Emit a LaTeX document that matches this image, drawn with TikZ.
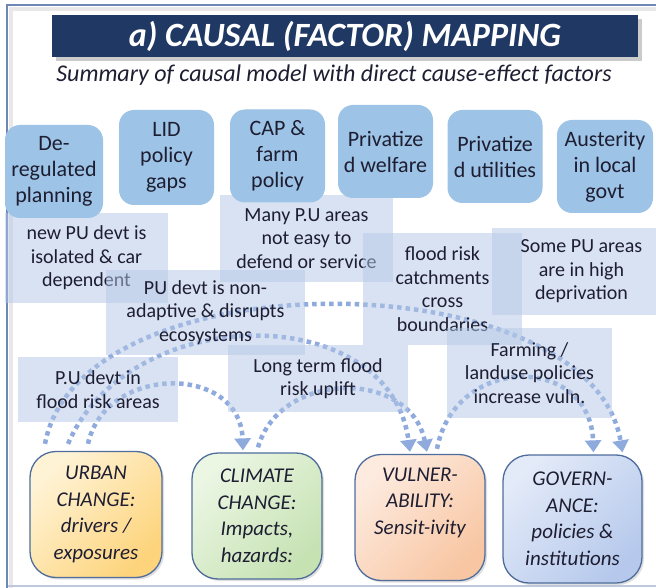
\documentclass[tikz,border=0pt]{standalone}
\usepackage{fontspec}
\setmainfont{Carlito}
\usetikzlibrary{arrows.meta,shadows}

\definecolor{navy}{HTML}{203864}
\definecolor{inkc}{HTML}{1E1E32}
\definecolor{topblue}{HTML}{9DC3E6}
\definecolor{lavender}{HTML}{B4C7E7}
\definecolor{arrowblue}{HTML}{8FAADC}
\definecolor{edgeblue}{HTML}{4E6D9C}
\definecolor{framec}{HTML}{6F87B7}
\definecolor{urbanL}{HTML}{FFF3D6}
\definecolor{urbanR}{HTML}{FDD47C}
\definecolor{climL}{HTML}{EBF6E3}
\definecolor{climR}{HTML}{C6E2B3}
\definecolor{vulnL}{HTML}{FDEBDF}
\definecolor{vulnR}{HTML}{F8C6A3}
\definecolor{govL}{HTML}{E3EAF8}
\definecolor{govR}{HTML}{B6C9EC}

\begin{document}
\begin{tikzpicture}[x=1pt,y=-1pt,
    factor/.style={fill=topblue, rounded corners=15pt, minimum width=95pt, minimum height=93pt,
        inner sep=1pt, align=center, text=inkc, font=\fontsize{22}{26}\selectfont},
    effect/.style={fill=lavender, fill opacity=0.5, text opacity=1, inner sep=0pt, align=center,
        text=inkc, font=\fontsize{20}{23.5}\selectfont},
    driver/.style={draw=edgeblue, line width=1.3pt, rounded corners=26pt, minimum width=132pt,
        minimum height=126pt, inner sep=1pt, align=center, text=inkc,
        font=\fontsize{21}{26.5}\selectfont\itshape,
        drop shadow={shadow xshift=2pt, shadow yshift=-2pt, opacity=0.25}},
    causal/.style={draw=arrowblue, line width=4.5pt, dash pattern=on 4.5pt off 4pt,
        -{Triangle[width=16pt,length=12pt]}}
  ]
  \useasboundingbox (0,0) rectangle (656,588);
  \clip (0,0) rectangle (656,588);
  \fill[white] (0,0) rectangle (656,588);

  % frame
  \draw[black!9, line width=4pt] (11,588) -- (11,9) -- (670,9);
  \draw[framec!45, line width=1.5pt] (7,586) -- (670,586);
  \draw[framec, line width=1.6pt] (7,590) -- (7,5) -- (670,5);

  % title
  \fill[black!40, opacity=0.5] (56,19) rectangle (642,61);
  \node (title) [fill=navy, minimum width=586pt, minimum height=42pt, text=white,
      font=\fontsize{34}{36}\selectfont\bfseries\itshape] at (345,36) {a) CAUSAL (FACTOR) MAPPING};
  \node (subtitle) [text=inkc, font=\fontsize{24}{26}\selectfont\itshape] at (334,75)
      {Summary of causal model with direct cause-effect factors};

  % drivers
  \node (urban) [driver, left color=urbanL, right color=urbanR, shading angle=45] at (96,514.5)
      {URBAN\\CHANGE:\\drivers /\\exposures};
  \node (climate) [driver, minimum width=130pt, left color=climL, right color=climR, shading angle=45] at (257,516)
      {CLIMATE\\CHANGE:\\Impacts,\\hazards:};
  \node (vuln) [driver, minimum width=130pt, left color=vulnL, right color=vulnR, shading angle=45] at (420,517.5)
      {VULNER-\\ABILITY:\\Sensit-ivity\\[6pt]};
  \node (gov) [driver, minimum width=139pt, minimum height=128pt, left color=govL, right color=govR, shading angle=45] at (572.5,519)
      {GOVERN-\\ANCE:\\policies \&\\institutions};

  % causal links
  \draw[causal] ([xshift=-51pt,yshift=7pt]urban.north) .. controls (80,255) and (590,260) .. ([xshift=50pt,yshift=2pt]gov.north);
  \draw[causal] ([xshift=-28pt,yshift=7pt]urban.north) .. controls (130,300) and (390,300) .. ([xshift=-10pt,yshift=2pt]vuln.north);
  \draw[causal] ([xshift=-8pt,yshift=7pt]urban.north) .. controls (105,365) and (240,363) .. ([xshift=-14pt,yshift=2pt]climate.north);
  \draw[causal] ([xshift=1pt,yshift=5pt]climate.north) .. controls (280,370) and (410,369) .. ([xshift=7pt,yshift=2pt]vuln.north);
  \draw[causal] ([xshift=17pt,yshift=5pt]vuln.north) .. controls (455,354) and (590,354) .. ([xshift=21pt,yshift=2pt]gov.north);

  % effects
  \node (isolated) [effect, minimum width=163pt, minimum height=90pt] at (86.5,258)
      {new PU devt is\\isolated \& car\\dependent};
  \node (nodefend) [effect, minimum width=173pt, minimum height=87pt] at (306.5,238.5)
      {Many P.U areas\\not easy to\\defend or service};
  \node (catch) [effect, minimum width=159pt, minimum height=112pt] at (442.5,289)
      {flood risk\\catchments\\cross\\boundaries};
  \node (depriv) [effect, minimum width=179pt, minimum height=87pt] at (581.5,271.5)
      {Some PU areas\\are in high\\deprivation};
  \node (nonadapt) [effect, minimum width=199pt, minimum height=85pt] at (205.5,312.5)
      {PU devt is non-\\adaptive \& disrupts\\ecosystems};
  \node (floodarea) [effect, minimum width=160pt, minimum height=65pt] at (98,389.5)
      {P.U devt in\\flood risk areas};
  \node (uplift) [effect, minimum width=180pt, minimum height=67pt] at (318,378.5)
      {Long term flood\\risk uplift};
  \node (farming) [effect, minimum width=165pt, minimum height=90pt] at (529.5,373)
      {Farming /\\landuse policies\\increase vuln.};

  % factors
  \node (dereg) [factor, minimum width=98pt] at (54,171.5) {De-\\regulated\\planning};
  \node (lid) [factor, minimum height=95pt] at (166.5,157.5) {LID\\policy\\gaps};
  \node (cap) [factor] at (277.5,156) {CAP \&\\farm\\policy};
  \node (privwel) [factor] at (385.5,151.5) {Privatize\\d welfare};
  \node (privutil) [factor] at (495,156.5) {Privatize\\d utilities};
  \node (auster) [factor, minimum width=96pt] at (605,166.5) {Austerity\\in local\\govt};
\end{tikzpicture}
\end{document}
